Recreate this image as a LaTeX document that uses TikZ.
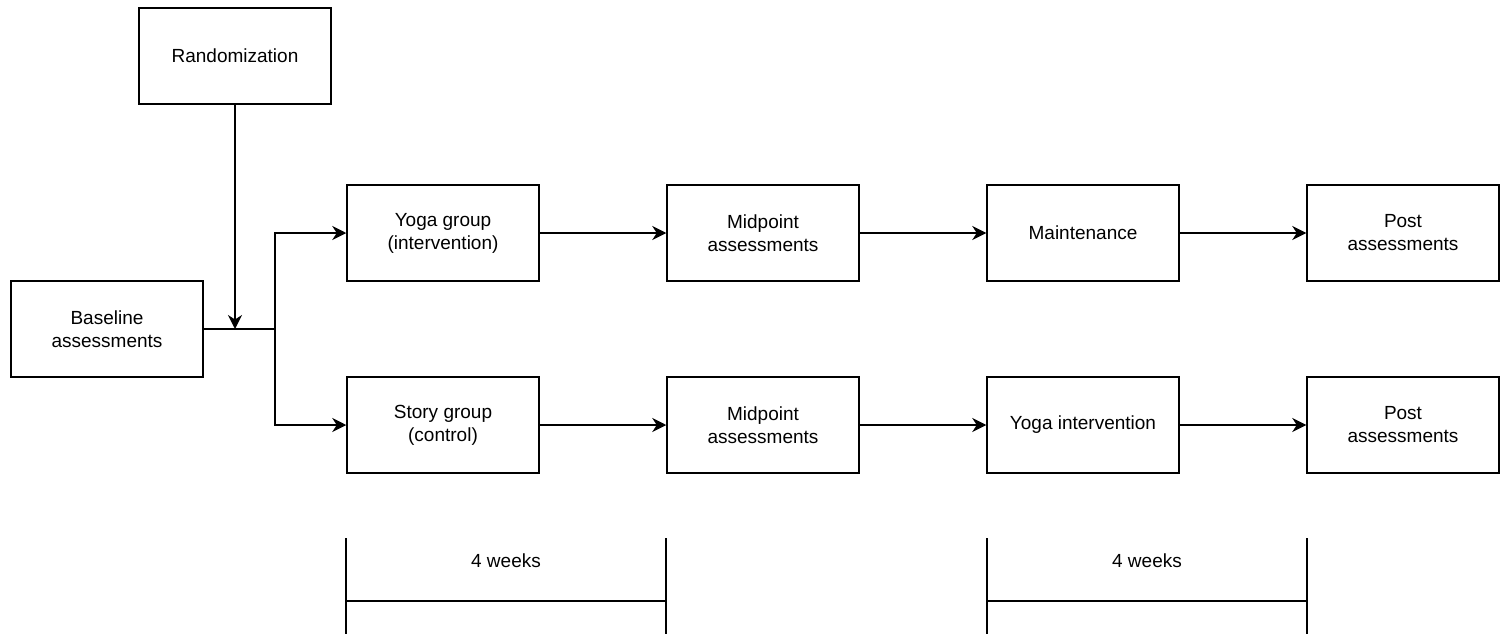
\documentclass[tikz,border=0pt]{standalone}
\usepackage{fontspec}
\setmainfont{Liberation Sans}
\usetikzlibrary{arrows.meta}
\begin{document}
\begin{tikzpicture}[x=1pt,y=-1pt,
  box/.style={draw,line width=1.5pt,minimum width=192pt,minimum height=96pt,inner sep=0pt,align=center,font=\fontsize{19}{23}\selectfont},
  conn/.style={line width=1.5pt},
  arr/.style={line width=1.5pt,-{Stealth[length=14pt,width=14pt,inset=4.5pt]}},
  lbl/.style={font=\fontsize{19}{23}\selectfont}]
\useasboundingbox (0,0) rectangle (1501,637);
\node[box] (rand) at (235,56) {Randomization};
\node[box] (base) at (107,329) {Baseline\\assessments};
\node[box] (yoga) at (443,233) {Yoga group\\(intervention)};
\node[box] (mid1) at (763,233) {Midpoint\\assessments};
\node[box] (main) at (1083,233) {Maintenance};
\node[box] (post1) at (1403,233) {Post\\assessments};
\node[box] (story) at (443,425) {Story group\\(control)};
\node[box] (mid2) at (763,425) {Midpoint\\assessments};
\node[box] (yint) at (1083,425) {Yoga intervention};
\node[box] (post2) at (1403,425) {Post\\assessments};
\coordinate (j) at (235,329);
\coordinate (b) at (275,329);
\draw[conn] (base.east) -- (b);
\draw[arr] (rand.south) -- (j);
\draw[arr] (b) |- (yoga.west);
\draw[arr] (b) |- (story.west);
\draw[arr] (yoga) -- (mid1);
\draw[arr] (mid1) -- (main);
\draw[arr] (main) -- (post1);
\draw[arr] (story) -- (mid2);
\draw[arr] (mid2) -- (yint);
\draw[arr] (yint) -- (post2);
% time brackets
\coordinate (t1a) at (346,538); \coordinate (t1b) at (346,634);
\coordinate (t1c) at (666,538); \coordinate (t1d) at (666,634);
\coordinate (t1e) at (346,601); \coordinate (t1f) at (666,601);
\draw[conn] (t1a) -- (t1b); \draw[conn] (t1c) -- (t1d); \draw[conn] (t1e) -- (t1f);
\node[lbl] (w1) at (506,561) {4 weeks};
\coordinate (t2a) at (987,538); \coordinate (t2b) at (987,634);
\coordinate (t2c) at (1307,538); \coordinate (t2d) at (1307,634);
\coordinate (t2e) at (987,601); \coordinate (t2f) at (1307,601);
\draw[conn] (t2a) -- (t2b); \draw[conn] (t2c) -- (t2d); \draw[conn] (t2e) -- (t2f);
\node[lbl] (w2) at (1147,561) {4 weeks};
\end{tikzpicture}
\end{document}
